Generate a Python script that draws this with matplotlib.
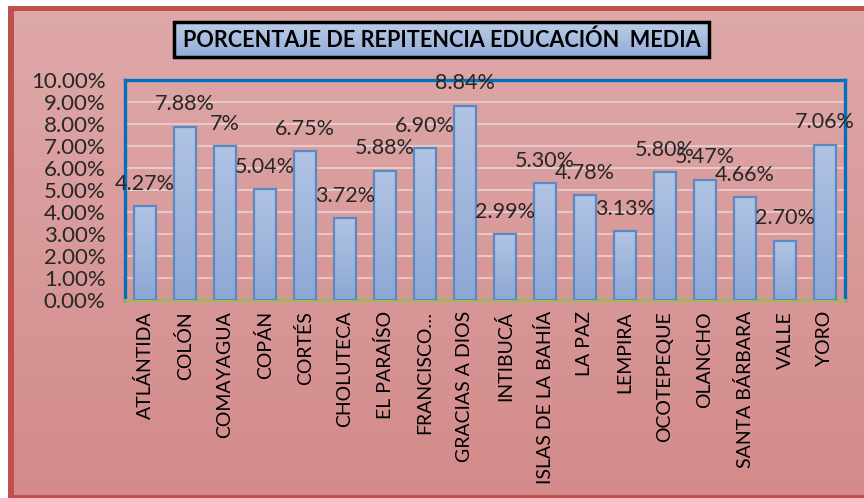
import matplotlib
matplotlib.use("Agg")
import matplotlib.pyplot as plt
import numpy as np
from matplotlib.patches import Rectangle
from matplotlib.colors import LinearSegmentedColormap

categories = ["ATLÁNTIDA", "COLÓN", "COMAYAGUA", "COPÁN", "CORTÉS", "CHOLUTECA",
              "EL PARAÍSO", "FRANCISCO…", "GRACIAS A DIOS", "INTIBUCÁ",
              "ISLAS DE LA BAHÍA", "LA PAZ", "LEMPIRA", "OCOTEPEQUE", "OLANCHO",
              "SANTA BÁRBARA", "VALLE", "YORO"]
values = [4.27, 7.88, 7.00, 5.04, 6.75, 3.72, 5.88, 6.90, 8.84, 2.99,
          5.30, 4.78, 3.13, 5.80, 5.47, 4.66, 2.70, 7.06]
labels = ["4.27%", "7.88%", "7%", "5.04%", "6.75%", "3.72%", "5.88%", "6.90%",
          "8.84%", "2.99%", "5.30%", "4.78%", "3.13%", "5.80%", "5.47%",
          "4.66%", "2.70%", "7.06%"]
yticks = [0, 1, 2, 3, 4, 5, 6, 7, 8, 9, 10]
title = "PORCENTAJE DE REPITENCIA EDUCACIÓN  MEDIA"

FONT = ["Lato", "DejaVu Sans"]
plt.rcParams['font.family'] = FONT

W, H = 864, 498
fig = plt.figure(figsize=(W / 100, H / 100), dpi=100)
fig.patch.set_facecolor("white")

# background gradient (chart area)
bg = fig.add_axes([0, 0, 1, 1], zorder=0)
bg.set_xlim(0, W)
bg.set_ylim(H, 0)
bg.axis("off")
bg_cmap = LinearSegmentedColormap.from_list("bg", ["#dfa9a9", "#d38a8a"])
grad = np.linspace(0, 1, 256).reshape(-1, 1)
bg.imshow(grad, cmap=bg_cmap, extent=[8, W, 497, 6], aspect="auto", zorder=0)
# red frame
bg.add_patch(Rectangle((8, 6), W - 8, 5, facecolor="#c0504d", edgecolor="none", zorder=1))
bg.add_patch(Rectangle((8, 6), 6, 491, facecolor="#c0504d", edgecolor="none", zorder=1))
bg.add_patch(Rectangle((8, 495), W - 8, 3, facecolor="#c0504d", edgecolor="none", zorder=1))

# title box
tb_cmap = LinearSegmentedColormap.from_list("tb", ["#bccde8", "#93acd6"])
bg.imshow(grad, cmap=tb_cmap, extent=[174, 709, 57, 22], aspect="auto", zorder=2)
bg.add_patch(Rectangle((174, 22), 535, 35, facecolor="none", edgecolor="black",
                       linewidth=2.5, zorder=3))
bg.text(441.5, 40, title, ha="center", va="center", fontsize=15.6,
        fontweight="bold", color="black", zorder=4, family=FONT)

# main plot
ax = fig.add_axes([125 / W, (H - 300) / H, 720 / W, 220 / H], zorder=1)
ax.patch.set_alpha(0)
x = np.arange(len(categories))
ax.set_xlim(-0.5, len(categories) - 0.5)
ax.set_ylim(0, 10)

for yv in yticks[1:-1]:
    ax.axhline(yv, color="#ebd2d2", linewidth=1.2, zorder=1)

bars = ax.bar(x, values, width=0.55, facecolor="none", edgecolor="#5b89c4",
              linewidth=1.6, zorder=3)
bar_cmap = LinearSegmentedColormap.from_list("bar", ["#8ea8d4", "#b0c4e4"])
for b in bars:
    x0, w, h = b.get_x(), b.get_width(), b.get_height()
    im = ax.imshow(grad, cmap=bar_cmap, extent=[x0, x0 + w, 0, h],
                   aspect="auto", origin="lower", zorder=2)
    im.set_clip_path(b)

ax.set_xlim(-0.5, len(categories) - 0.5)
ax.set_ylim(0, 10)

for xi, v, lab in zip(x, values, labels):
    ax.annotate(lab, (xi, v), xytext=(0, 16), textcoords="offset points",
                ha="center", va="center", fontsize=15.5, color="#262626", zorder=5)

ax.set_yticks(yticks)
ax.set_yticklabels([f"{t:.2f}%" for t in yticks], fontsize=16, color="#262626")
ax.set_xticks(x)
ax.set_xticklabels(categories, rotation=90, fontsize=14, color="black",
                   va="top", ha="center")
ax.tick_params(axis="both", length=0)
ax.tick_params(axis="y", pad=14)
ax.tick_params(axis="x", pad=8)

for s in ["top", "left", "right"]:
    ax.spines[s].set_color("#0070c0")
    ax.spines[s].set_linewidth(2.4)
ax.spines["bottom"].set_color("#9bbb59")
ax.spines["bottom"].set_linewidth(2)

fig.savefig("out.png", dpi=100)
